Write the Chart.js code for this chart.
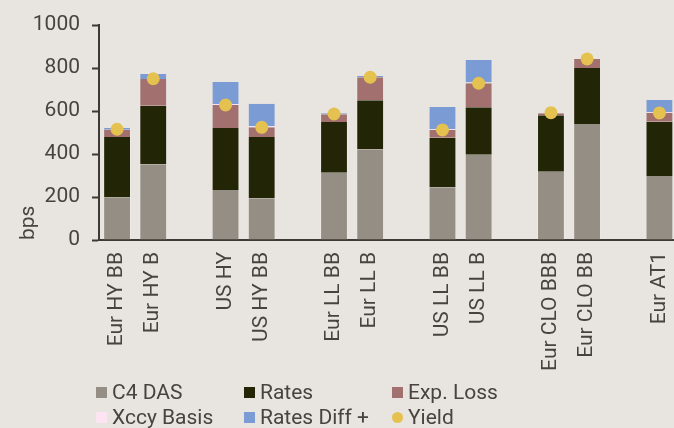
<!DOCTYPE html>
<html>
<head>
<meta charset="utf-8">
<script src="https://cdn.jsdelivr.net/npm/chart.js@4"></script>
<style>
  html, body { margin: 0; padding: 0; background: #E8E4DF; overflow: hidden; }
  body { width: 674px; height: 428px; position: relative; font-family: Roboto, sans-serif; }
  #wrap { position: absolute; left: 0; top: 0; width: 684px; height: 380px; }
  #legend { position: absolute; left: 0; top: 378px; width: 674px; height: 50px; color: #48433F; font-size: 21px; }
  .item { position: absolute; display: flex; align-items: center; line-height: 24px; white-space: nowrap; }
  .sw { width: 11px; height: 11px; margin-right: 5px; }
</style>
</head>
<body>
<div id="wrap"><canvas id="chart" width="684" height="380"></canvas></div>
<div id="legend"></div>
<script>
// --- Data (bps), blank slots separate the groups
const categories = ['Eur HY BB','Eur HY B','','US HY','US HY BB','','Eur LL BB','Eur LL B','','US LL BB','US LL B','','Eur CLO BBB','Eur CLO BB','','Eur AT1'];
const c4Das     = [198, 352, null, 233, 194, null, 313, 422, null, 245, 397, null, 318, 540, null, 298];
const rates     = [281, 273, null, 288, 285, null, 236, 228, null, 231, 220, null, 262, 260, null, 252];
const expLoss   = [ 34, 124, null, 107,  45, null,  36, 107, null,  36, 112, null,   9,  42, null,  42];
const xccyBasis = [  0,   0, null,   4,   5, null,   0,   0, null,   3,   4, null,   0,   0, null,   3];
const ratesDiff = [  8,  23, null, 103, 105, null,   4,   6, null, 104, 104, null,   2,   0, null,  56];
const yieldBps  = [515, 750, null, 628, 524, null, 586, 757, null, 512, 729, null, 592, 842, null, 591];
const yTicks = [0, 200, 400, 600, 800, 1000];

const ink = '#48433F';
const axisCol = '#3E3935';

const series = [
  { label: 'C4 DAS', data: c4Das, color: '#958E84' },
  { label: 'Rates', data: rates, color: '#232507' },
  { label: 'Exp. Loss', data: expLoss, color: '#A2706E' },
  { label: 'Xccy Basis', data: xccyBasis, color: '#FCE4F3' },
  { label: 'Rates Diff +', data: ratesDiff, color: '#7B9BD4' }
];

const datasets = series.map(s => ({
  type: 'bar',
  label: s.label,
  data: s.data,
  order: 1,
  backgroundColor: s.color,
  borderColor: 'rgba(255,255,255,0.22)',
  borderWidth: { left: 1, right: 1, top: 0, bottom: 0 },
  borderSkipped: false,
  stack: 'bars',
  barPercentage: 0.77,
  categoryPercentage: 1.0
}));
datasets.push({
  type: 'line',
  label: 'Yield',
  data: yieldBps,
  order: 0,
  stack: 'yield',
  showLine: false,
  pointRadius: 6.5,
  pointBackgroundColor: '#E5C24F',
  pointBorderColor: '#E5C24F',
  pointBorderWidth: 0
});

Chart.defaults.font.family = 'Roboto, sans-serif';
Chart.defaults.font.size = 21;
Chart.defaults.color = ink;

new Chart(document.getElementById('chart'), {
  data: { labels: categories, datasets },
  options: {
    responsive: false,
    animation: false,
    layout: { padding: { top: 25, right: 4, left: 0, bottom: 0 } },
    plugins: { legend: { display: false }, tooltip: { enabled: false } },
    scales: {
      x: {
        stacked: true,
        grid: { display: true, drawOnChartArea: false, drawTicks: false },
        border: { display: true, color: axisCol, width: 2 },
        ticks: { maxRotation: 90, minRotation: 90, padding: 12, autoSkip: false, color: ink },
        afterFit: s => { s.height = 140; s.paddingLeft = 0; s.paddingRight = 0; }
      },
      y: {
        stacked: true,
        min: 0,
        max: 1000,
        afterBuildTicks: s => { s.ticks = yTicks.map(v => ({ value: v })); },
        grid: { display: true, drawOnChartArea: false, drawTicks: true, tickLength: 7, tickWidth: 2, tickColor: axisCol },
        border: { display: true, color: axisCol, width: 2 },
        ticks: { padding: 12, color: ink, callback: v => String(v) },
        title: { display: true, text: 'bps', align: 'start', color: ink, padding: { top: 16, bottom: 0 } },
        afterFit: s => { s.width = 99; s.paddingTop = 0; s.paddingBottom = 0; }
      }
    }
  }
});

// --- HTML legend, three fixed columns
const legendItems = [
  { label: 'C4 DAS', color: '#958E84', x: 96, y: 2 },
  { label: 'Rates', color: '#232507', x: 244, y: 2 },
  { label: 'Exp. Loss', color: '#A2706E', x: 392, y: 2 },
  { label: 'Xccy Basis', color: '#FCE4F3', x: 96, y: 27 },
  { label: 'Rates Diff +', color: '#7B9BD4', x: 244, y: 27 },
  { label: 'Yield', color: '#E5C24F', x: 392, y: 27, dot: true }
];
const legend = document.getElementById('legend');
legendItems.forEach(it => {
  const el = document.createElement('div');
  el.className = 'item';
  el.style.left = it.x + 'px';
  el.style.top = it.y + 'px';
  const sw = document.createElement('span');
  sw.className = 'sw';
  sw.style.background = it.color;
  if (it.dot) sw.style.borderRadius = '50%';
  const tx = document.createElement('span');
  tx.textContent = it.label;
  el.appendChild(sw);
  el.appendChild(tx);
  legend.appendChild(el);
});
</script>
</body>
</html>
